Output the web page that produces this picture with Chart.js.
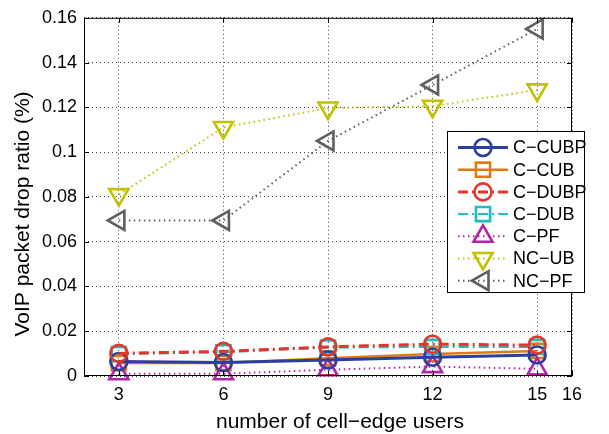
<!DOCTYPE html>
<html>
<head>
<meta charset="utf-8">
<script src="https://cdn.jsdelivr.net/npm/chart.js@4/dist/chart.umd.min.js"></script>
<style>
  html, body { margin: 0; padding: 0; background: #fff; }
  #wrap { width: 609px; height: 434px; position: relative; }
</style>
</head>
<body>
<div id="wrap"><canvas id="c" width="609" height="434"></canvas></div>
<script>
// Number of cell-edge users (x) and VoIP packet drop ratio per scheme
const users = [3, 6, 9, 12, 15];
const xTicks = [3, 6, 9, 12, 15, 16];
const yTicks = [0, 0.02, 0.04, 0.06, 0.08, 0.1, 0.12, 0.14, 0.16];
const seriesNames = ['C\u2212CUBP', 'C\u2212CUB', 'C\u2212DUBP', 'C\u2212DUB', 'C\u2212PF', 'NC\u2212UB', 'NC\u2212PF'];
const cCubp = [0.0065, 0.0060, 0.0072, 0.0084, 0.0094];
const cCub  = [0.0058, 0.0058, 0.0079, 0.0098, 0.0112];
const cDubp = [0.0101, 0.0110, 0.0130, 0.0142, 0.0138];
const cDub  = [0.0098, 0.0106, 0.0127, 0.0130, 0.0130];
const cPf   = [0.0010, 0.0010, 0.0028, 0.0042, 0.0032];
const ncUb  = [0.0810, 0.1110, 0.1197, 0.1205, 0.1278];
const ncPf  = [0.0695, 0.0695, 0.1050, 0.1300, 0.1550];

const values = [cCubp, cCub, cDubp, cDub, cPf, ncUb, ncPf];
// draw order (higher value painted first, lower painted on top)
const layer = [4, 7, 3, 6, 5, 2, 1];
const styles = [
  { color: '#2c3f9e', dash: [],             width: 3,   point: 'circle',   rot: 0,   r: 8.5 },
  { color: '#e07b10', dash: [],             width: 2.5, point: 'rect',     rot: 0,   r: 10 },
  { color: '#e5352b', dash: [10, 4, 2, 4],  width: 3,   point: 'circle',   rot: 0,   r: 8.5 },
  { color: '#22bcbc', dash: [10, 4, 2, 4],  width: 2,   point: 'rect',     rot: 0,   r: 10 },
  { color: '#b026a6', dash: [1.5, 3.5],     width: 2,   point: 'triangle', rot: 0,   r: 11 },
  { color: '#c2c200', dash: [1.5, 3.5],     width: 2,   point: 'triangle', rot: 180, r: 11 },
  { color: '#5f5f5f', dash: [1.5, 3.5],     width: 2,   point: 'triangle', rot: -90, r: 11 }
];

const datasets = seriesNames.map((name, i) => ({
  label: name,
  data: users.map((u, k) => ({ x: u, y: values[i][k] })),
  borderColor: styles[i].color,
  backgroundColor: 'rgba(0,0,0,0)',
  borderWidth: styles[i].width,
  borderDash: styles[i].dash,
  pointStyle: styles[i].point,
  pointRotation: styles[i].rot,
  pointRadius: styles[i].r,
  pointBorderWidth: 2.6,
  pointBorderColor: styles[i].color,
  pointBackgroundColor: 'rgba(0,0,0,0)',
  tension: 0,
  clip: false,
  order: layer[i]
}));

const TICK_FONT = { family: 'Liberation Sans, Arial, Helvetica, sans-serif', size: 18 };
const fmt = v => String(Number(v.toFixed(2)));

// Axis box with inward tick marks, axis titles and the boxed legend
const framePlugin = {
  id: 'frame',
  afterDatasetsDraw(chart) {
    const ctx = chart.ctx;
    const a = chart.chartArea;
    const xs = chart.scales.x, ys = chart.scales.y;
    ctx.save();
    ctx.strokeStyle = '#000';
    ctx.lineWidth = 1;
    ctx.setLineDash([]);
    ctx.strokeRect(a.left + 0.5, a.top + 0.5, a.right - a.left - 1, a.bottom - a.top - 1);
    const tl = 5;
    ctx.beginPath();
    xTicks.forEach(v => {
      const px = Math.round(xs.getPixelForValue(v)) + 0.5;
      ctx.moveTo(px, a.bottom); ctx.lineTo(px, a.bottom - tl);
      ctx.moveTo(px, a.top); ctx.lineTo(px, a.top + tl);
    });
    yTicks.forEach(v => {
      const py = Math.round(ys.getPixelForValue(v)) + 0.5;
      ctx.moveTo(a.left, py); ctx.lineTo(a.left + tl, py);
      ctx.moveTo(a.right, py); ctx.lineTo(a.right - tl, py);
    });
    ctx.stroke();

    // legend
    const lx = 447, ly = 131, lw = 137, lh = 161;
    ctx.fillStyle = '#fff';
    ctx.fillRect(lx, ly, lw, lh);
    ctx.strokeStyle = '#000';
    ctx.lineWidth = 1;
    ctx.strokeRect(lx + 0.5, ly + 0.5, lw, lh);
    ctx.font = '18px Liberation Sans, Arial, Helvetica, sans-serif';
    ctx.textBaseline = 'middle';
    ctx.textAlign = 'left';
    seriesNames.forEach((name, i) => {
      const s = styles[i];
      const y = 147.5 + i * 22.2;
      ctx.strokeStyle = s.color;
      ctx.lineWidth = s.width;
      ctx.setLineDash(s.dash);
      ctx.beginPath();
      ctx.moveTo(458, y); ctx.lineTo(508, y);
      ctx.stroke();
      ctx.setLineDash([]);
      ctx.lineWidth = 2.6;
      ctx.fillStyle = 'rgba(0,0,0,0)';
      Chart.helpers.drawPoint(ctx, { pointStyle: s.point, rotation: s.rot, radius: s.r, borderWidth: 2.6 }, 483, y);
      ctx.fillStyle = '#000';
      ctx.fillText(name, 513, y + 1);
    });

    // axis titles
    ctx.fillStyle = '#000';
    ctx.font = '21px Liberation Sans, Arial, Helvetica, sans-serif';
    ctx.textAlign = 'center';
    ctx.textBaseline = 'alphabetic';
    ctx.fillText('number of cell\u2212edge users', 340, 428);
    ctx.translate(29, 214);
    ctx.rotate(-Math.PI / 2);
    ctx.fillText('VoIP packet drop ratio (%)', 0, 0);
    ctx.restore();
  }
};

new Chart(document.getElementById('c'), {
  type: 'line',
  data: { datasets },
  options: {
    responsive: false,
    animation: false,
    devicePixelRatio: 1,
    layout: { padding: { left: 0, right: 37, top: 12, bottom: 0 } },
    plugins: { legend: { display: false }, tooltip: { enabled: false } },
    scales: {
      x: {
        type: 'linear',
        min: 2, max: 16,
        afterBuildTicks: s => { s.ticks = xTicks.map(v => ({ value: v })); },
        afterFit: s => { s.height = 58; },
        border: { display: false, dash: [1, 3] },
        grid: { color: '#444', lineWidth: 1, drawTicks: false },
        ticks: { font: TICK_FONT, color: '#000', padding: 8, maxRotation: 0, autoSkip: false, callback: v => String(v) }
      },
      y: {
        min: 0, max: 0.16,
        afterBuildTicks: s => { s.ticks = yTicks.map(v => ({ value: v })); },
        afterFit: s => { s.width = 84; },
        border: { display: false, dash: [1, 3] },
        grid: { color: '#444', lineWidth: 1, drawTicks: false },
        ticks: { font: TICK_FONT, color: '#000', padding: 7, autoSkip: false, callback: v => fmt(v) }
      }
    }
  },
  plugins: [framePlugin]
});
</script>
</body>
</html>
